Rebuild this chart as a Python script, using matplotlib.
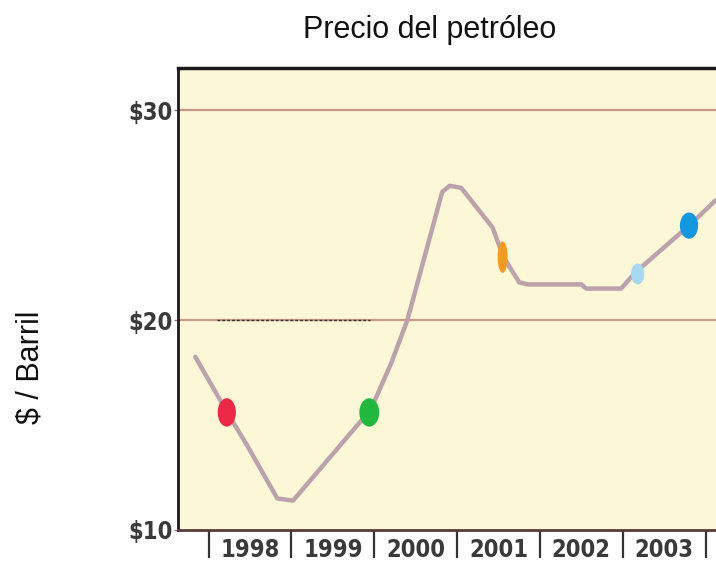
import matplotlib
matplotlib.use("Agg")
import matplotlib.pyplot as plt
from matplotlib.patches import Ellipse
from matplotlib import font_manager
from matplotlib.font_manager import FontProperties

# Oil price, US$ per barrel
years = [1997.84, 1998.24, 1998.47, 1998.83, 1999.02, 1999.96, 2000.21, 2000.40,
         2000.82, 2000.91, 2001.05, 2001.43, 2001.56, 2001.75, 2001.85, 2002.50,
         2002.56, 2002.98, 2003.16, 2003.80, 2004.12]
price = [18.25, 15.5, 14.0, 11.5, 11.4, 15.75, 18.0, 20.0,
         26.1, 26.4, 26.3, 24.4, 23.0, 21.8, 21.7, 21.7,
         21.5, 21.5, 22.3, 24.5, 25.7]

# Highlighted points along the series
hl_years = [1998.22, 1999.94, 2001.55, 2003.18, 2003.80]
hl_price = [15.6, 15.6, 23.0, 22.2, 24.5]
hl_colors = ["#ec2a48", "#22b83e", "#f39a22", "#a6d8f2", "#1597e0"]
hl_w = [0.22, 0.24, 0.12, 0.16, 0.22]
hl_h = [1.35, 1.35, 1.5, 1.0, 1.25]

year_bounds = [1998, 1999, 2000, 2001, 2002, 2003, 2004]
year_labels = ["1998", "1999", "2000", "2001", "2002", "2003"]
y_ticks = [10, 20, 30]
y_labels = ["$10", "$20", "$30"]

# pick a condensed bold face for the tick labels if one is installed
cond = [f for f in font_manager.fontManager.ttflist
        if f.stretch in ("condensed", "semi-condensed", "extra-condensed")
        and (f.weight in ("bold", "semibold", "heavy", "black")
             or (isinstance(f.weight, int) and f.weight >= 600))]
cond.sort(key=lambda f: (0 if "DejaVu" in f.name else 1 if "Liberation" in f.name else 2, f.fname))
if cond:
    tick_fp = FontProperties(fname=cond[0].fname, size=17)
else:
    tick_fp = FontProperties(family="Liberation Sans", weight="bold", size=15)

fig = plt.figure(figsize=(7.16, 5.86), dpi=100)
ax = fig.add_axes([0.2486, 0.0956, 0.76, 0.788])
ax.set_facecolor("#fcf7d6")

ax.set_xlim(1997.631, 2004.20)
ax.set_ylim(10, 32.0)

# horizontal reference lines
for v in [20, 30]:
    ax.axhline(v, color="#c89a88", lw=1.6, zorder=1)
ax.hlines(20, 1998.1, 1999.95, colors="#333333", lw=1.0, linestyles=(0, (2, 1.5)), zorder=1.5)

ax.plot(years, price, color="#bba2ac", lw=3.2, solid_capstyle="round", zorder=2)
for x, y, c, w, h in zip(hl_years, hl_price, hl_colors, hl_w, hl_h):
    ax.add_patch(Ellipse((x, y), w, h, facecolor=c, edgecolor="none", zorder=3))

ax.set_yticks(y_ticks)
ax.set_yticklabels(y_labels, fontproperties=tick_fp, color="#3a3a3a")
ax.tick_params(axis="y", length=3, width=1, color="#888888", pad=1)

ax.set_xticks(year_bounds)
ax.set_xticklabels([])
ax.tick_params(axis="x", which="major", length=20, width=1.6, color="#333333", direction="out")
mids = [y + 0.5 for y in year_bounds[:-1]]
ax.set_xticks(mids, minor=True)
ax.set_xticklabels(year_labels, minor=True, fontproperties=tick_fp, color="#3a3a3a")
ax.tick_params(axis="x", which="minor", length=0, pad=6)

for side in ["left", "top"]:
    ax.spines[side].set_color("#1a1a1a")
ax.spines["left"].set_linewidth(2.0)
ax.spines["top"].set_linewidth(2.5)
ax.spines["bottom"].set_color("#5a3a3a")
ax.spines["bottom"].set_linewidth(2.0)
ax.spines["right"].set_visible(False)

fig.text(0.60, 0.948, "Precio del petróleo", ha="center", va="center",
         fontsize=22, family="Liberation Sans", color="#111111")
fig.text(0.042, 0.374, "$ / Barril", ha="center", va="center", rotation=90,
         fontsize=22, family="Liberation Sans", color="#111111")

fig.savefig("out.png", dpi=100)
